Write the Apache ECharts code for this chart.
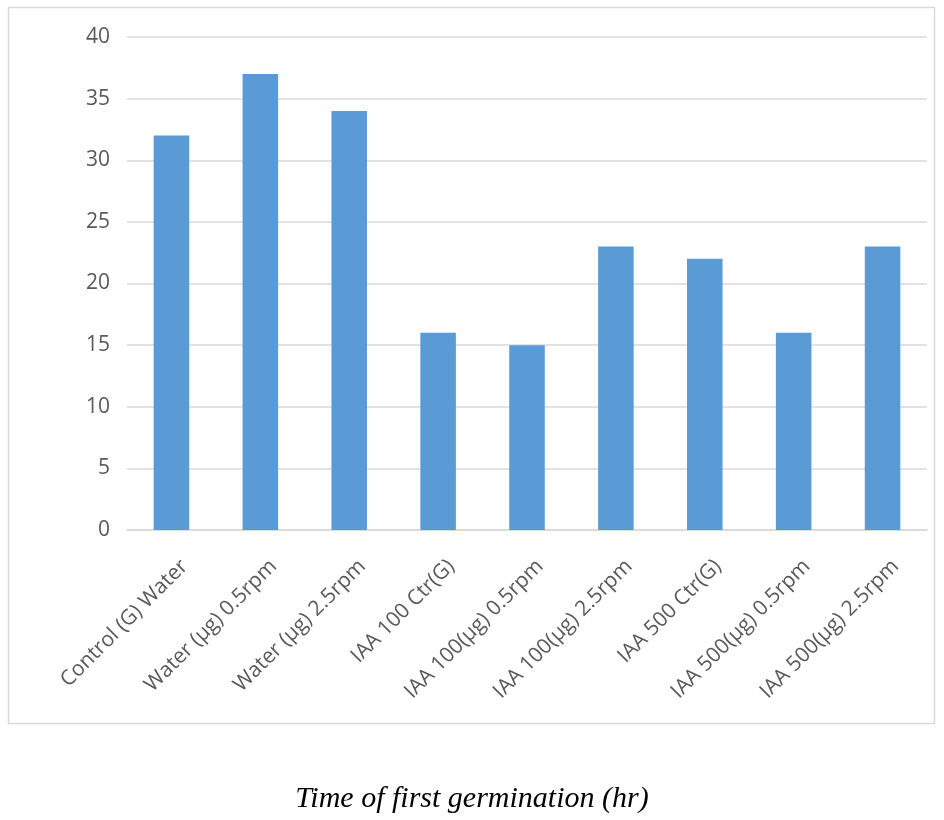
<!DOCTYPE html>
<html>
<head>
<meta charset="utf-8">
<script src="https://cdn.jsdelivr.net/npm/echarts@6/dist/echarts.min.js"></script>
<style>html,body{margin:0;padding:0;background:#fff;}#c{width:944px;height:820px;}</style>
</head>
<body>
<div id="c"></div>
<script>
const categories = ["Control (G) Water","Water (µg) 0.5rpm","Water (µg) 2.5rpm","IAA 100 Ctr(G)","IAA 100(µg) 0.5rpm","IAA 100(µg) 2.5rpm","IAA 500 Ctr(G)","IAA 500(µg) 0.5rpm","IAA 500(µg) 2.5rpm"];
const values = [32, 37, 34, 16, 15, 23, 22, 16, 23];
const yTicks = [0, 5, 10, 15, 20, 25, 30, 35, 40];
const caption = "Time of first germination (hr)";

const chart = echarts.init(document.getElementById('c'), null, {renderer: 'canvas'});
chart.setOption({
  animation: false,
  backgroundColor: '#fff',
  graphic: [
    {type: 'rect', shape: {x: 8.5, y: 7.5, width: 926, height: 716}, style: {fill: 'none', stroke: '#d9d9d9', lineWidth: 1.5}, z: -1},
    {type: 'text', left: 'center', top: 784, style: {text: caption, font: 'italic 30px "Liberation Serif", "Times New Roman", serif', fill: '#000'}}
  ],
  grid: {left: 127, right: 17, top: 37, bottom: 290, containLabel: false},
  xAxis: {
    type: 'category',
    data: categories,
    axisLine: {lineStyle: {color: '#d9d9d9', width: 1.5}},
    axisTick: {show: false},
    axisLabel: {rotate: 45, color: '#595959', fontSize: 21, fontFamily: '"Open Sans", "Noto Sans", sans-serif', margin: 20, interval: 0, verticalAlign: 'top', padding: [8, 0, 0, 0]}
  },
  yAxis: {
    type: 'value',
    min: yTicks[0], max: yTicks[yTicks.length - 1], interval: 5,
    axisLine: {show: false},
    axisTick: {show: false},
    splitLine: {lineStyle: {color: '#d9d9d9', width: 1.5}},
    axisLabel: {color: '#595959', fontSize: 21, fontFamily: '"Open Sans", "Noto Sans", sans-serif', margin: 17}
  },
  series: [{
    type: 'bar',
    data: values,
    barWidth: '40%',
    itemStyle: {color: '#5b9bd5'}
  }]
});
</script>
</body>
</html>
